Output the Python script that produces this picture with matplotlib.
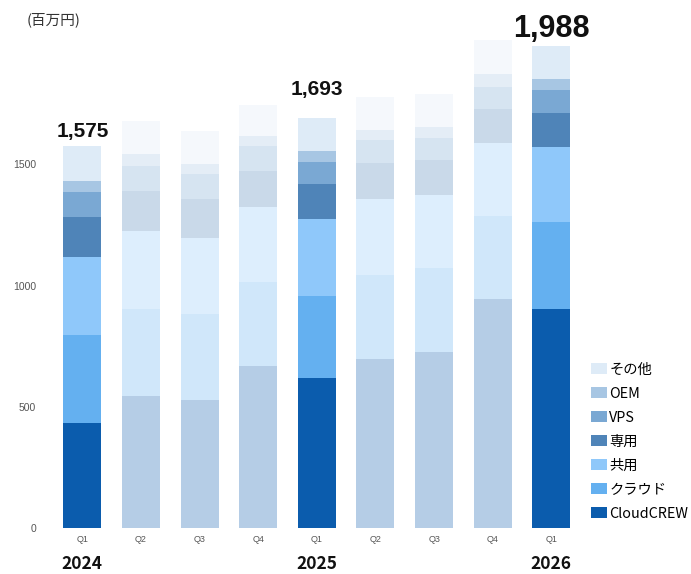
import numpy as np
import matplotlib.pyplot as plt
from matplotlib.patches import Patch
from matplotlib.transforms import blended_transform_factory

# quarterly sales by service (million yen), stacked bottom to top
quarters = ["Q1", "Q2", "Q3", "Q4", "Q1", "Q2", "Q3", "Q4", "Q1"]
years = {0: "2024", 4: "2025", 8: "2026"}

cloudcrew = [431, 543, 528, 668, 617, 698, 725, 943, 902]
cloud = [363, 360, 354, 345, 340, 345, 347, 344, 361]
shared = [324, 321, 313, 311, 316, 314, 302, 301, 308]
dedicated = [165, 167, 161, 150, 146, 150, 143, 141, 143]
vps = [102, 103, 104, 101, 92, 93, 91, 92, 93]
oem = [48, 48, 42, 42, 44, 42, 48, 54, 44]
other = [142, 137, 137, 128, 138, 138, 135, 139, 137]

series = [cloudcrew, cloud, shared, dedicated, vps, oem, other]
names = ["CloudCREW", "クラウド", "共用", "専用", "VPS", "OEM", "その他"]
colors = ["#0b5cad", "#64b0f0", "#8fc8fa", "#4f84b8", "#7aa8d3", "#a7c6e3", "#deebf7"]

# only the Q1 bars are highlighted, with their totals on top
highlight = [0, 4, 8]
label_pad = {0: 7, 4: 16, 8: 7}
label_size = {0: 15, 4: 15, 8: 22}

jp = ["Noto Sans CJK JP", "DejaVu Sans"]

fig = plt.figure(figsize=(6.91, 5.74), dpi=100)
ax = fig.add_axes([0.064, 0.0807, 0.789, 0.886])

x = np.arange(len(quarters))
bottom = np.zeros(len(quarters))
for vals, col in zip(series, colors):
    vals = np.array(vals, dtype=float)
    for i in x:
        a = 1.0 if i in highlight else 0.3
        ax.bar(i, vals[i], 0.65, bottom=bottom[i], color=col, alpha=a, linewidth=0)
    bottom += vals

for i in highlight:
    total = int(bottom[i])
    ax.annotate(f"{total:,}", (i, total), xytext=(0, label_pad[i]), textcoords="offset points",
                ha="center", va="baseline", fontsize=label_size[i], fontweight="bold",
                family="Liberation Sans", color="#111111")

ax.set_xlim(-0.65, 8.65)
ax.set_ylim(0, 2100)
ax.set_xticks(x)
ax.set_xticklabels(quarters, fontsize=6.5, color="#555555", family="Liberation Sans")
ax.set_yticks([0, 500, 1000, 1500])
ax.set_yticklabels(["0", "500", "1000", "1500"], fontsize=7.5, color="#555555", family="Liberation Sans")
ax.tick_params(length=0)
ax.tick_params(axis="x", pad=5)
ax.tick_params(axis="y", pad=6)
for s in ax.spines.values():
    s.set_visible(False)

trans = blended_transform_factory(ax.transData, ax.transAxes)
for i, yr in years.items():
    ax.text(i, -0.071, yr, transform=trans, ha="center", va="center",
            fontsize=12.5, fontweight="bold", family=jp, color="#111111")

fig.text(0.038, 0.965, "(百万円)", fontsize=10.5, family=jp, color="#333333", va="center")

handles = [Patch(facecolor=c, edgecolor="none") for c in colors]
leg = fig.legend(handles[::-1], names[::-1], loc="lower left", bbox_to_anchor=(0.856, 0.093),
                 frameon=False, prop={"family": jp, "size": 10.3},
                 handlelength=1.05, handleheight=0.85, handletextpad=0.2,
                 labelspacing=0.7, borderpad=0, borderaxespad=0)

fig.savefig("out.png", dpi=100)
